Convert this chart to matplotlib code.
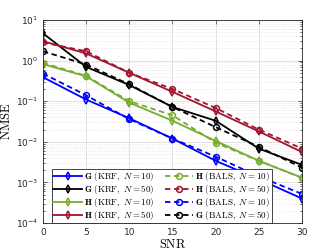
import matplotlib
matplotlib.use("Agg")
import matplotlib.pyplot as plt
from matplotlib.ticker import LogLocator, NullFormatter

plt.rcParams['mathtext.fontset'] = 'cm'

snr = [0, 5, 10, 15, 20, 25, 30]

g_krf_10 = [0.39, 0.11, 0.038, 0.012, 0.0034, 0.0012, 0.0004]
g_krf_50 = [4.7, 0.70, 0.25, 0.072, 0.033, 0.0068, 0.0027]
h_krf_10 = [0.82, 0.41, 0.092, 0.033, 0.0105, 0.0034, 0.0013]
h_krf_50 = [3.0, 1.5, 0.50, 0.17, 0.056, 0.018, 0.0056]
h_bals_10 = [0.88, 0.42, 0.10, 0.045, 0.0095, 0.0034, 0.0013]
h_bals_50 = [2.8, 1.7, 0.50, 0.20, 0.068, 0.020, 0.0068]
g_bals_10 = [0.48, 0.14, 0.036, 0.012, 0.0043, 0.0014, 0.00052]
g_bals_50 = [1.7, 0.80, 0.26, 0.072, 0.023, 0.0075, 0.0023]

blue = '#0000FF'
black = '#000000'
green = '#77AC30'
red = '#A2142F'

series = [
    (g_krf_10, blue, '-', 'd', r'$\mathbf{G}\ \mathrm{(KRF,}\ N=10\mathrm{)}$'),
    (g_krf_50, black, '-', 'd', r'$\mathbf{G}\ \mathrm{(KRF,}\ N=50\mathrm{)}$'),
    (h_krf_10, green, '-', 'd', r'$\mathbf{H}\ \mathrm{(KRF,}\ N=10\mathrm{)}$'),
    (h_krf_50, red, '-', 'd', r'$\mathbf{H}\ \mathrm{(KRF,}\ N=50\mathrm{)}$'),
    (h_bals_10, green, '--', 'o', r'$\mathbf{H}\ \mathrm{(BALS,}\ N=10\mathrm{)}$'),
    (h_bals_50, red, '--', 'o', r'$\mathbf{H}\ \mathrm{(BALS,}\ N=50\mathrm{)}$'),
    (g_bals_10, blue, '--', 'o', r'$\mathbf{G}\ \mathrm{(BALS,}\ N=10\mathrm{)}$'),
    (g_bals_50, black, '--', 'o', r'$\mathbf{G}\ \mathrm{(BALS,}\ N=50\mathrm{)}$'),
]

fig = plt.figure(figsize=(3.33, 2.5), dpi=100)
ax = fig.add_axes([0.129, 0.108, 0.778, 0.812])

for vals, c, ls, mk, lab in series:
    ax.semilogy(snr, vals, color=c, linestyle=ls, marker=mk, markersize=4.2,
                markerfacecolor='none', markeredgewidth=1.1, linewidth=1.3,
                label=lab, dashes=(3, 2) if ls == '--' else (None, None))

ax.set_xlim(0, 30)
ax.set_ylim(1e-4, 1e1)
ax.set_xticks(snr)
ax.yaxis.set_major_locator(LogLocator(base=10, numticks=10))
ax.yaxis.set_minor_locator(LogLocator(base=10, subs=range(2, 10), numticks=50))
ax.yaxis.set_minor_formatter(NullFormatter())
ax.grid(True, which='major', color='#dddddd', linewidth=0.6)
ax.grid(True, which='minor', color='#dddddd', linestyle=':', linewidth=0.5)
ax.set_axisbelow(True)
ax.tick_params(which='both', direction='in', top=True, right=True, labelsize=6.5,
               colors='#262626', width=0.5)
ax.tick_params(which='major', length=3)
ax.tick_params(which='minor', length=1.5)
for s in ax.spines.values():
    s.set_linewidth(0.6)
    s.set_color('#262626')

ax.set_xlabel(r'$\mathrm{SNR}$', fontsize=9, labelpad=1)
ax.set_ylabel(r'$\mathrm{NMSE}$', fontsize=9, labelpad=2)

leg = ax.legend(ncol=2, loc='lower left', bbox_to_anchor=(0.035, -0.002),
                fontsize=6.5, frameon=True, fancybox=False, edgecolor='#262626',
                framealpha=1, handlelength=3.2, columnspacing=1.1,
                handletextpad=0.2, labelspacing=0.0, borderpad=0.15,
                borderaxespad=0.0)
leg.get_frame().set_linewidth(0.6)

fig.savefig('out.png', dpi=100)
